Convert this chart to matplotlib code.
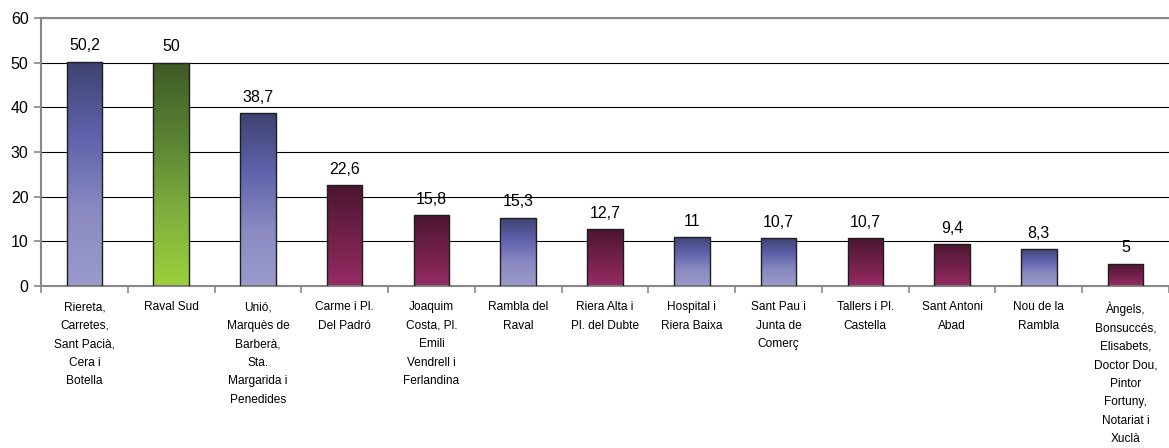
import numpy as np
import matplotlib
matplotlib.use('Agg')
import matplotlib.pyplot as plt
from matplotlib.colors import LinearSegmentedColormap

plt.rcParams['font.family'] = ['Liberation Sans', 'DejaVu Sans']

categories = [
    'Riereta,\nCarretes,\nSant Pacià,\nCera i\nBotella',
    'Raval Sud',
    'Unió,\nMarquès de\nBarberà,\nSta.\nMargarida i\nPenedides',
    'Carme i Pl.\nDel Padró',
    'Joaquim\nCosta, Pl.\nEmili\nVendrell i\nFerlandina',
    'Rambla del\nRaval',
    'Riera Alta i\nPl. del Dubte',
    'Hospital i\nRiera Baixa',
    'Sant Pau i\nJunta de\nComerç',
    'Tallers i Pl.\nCastella',
    'Sant Antoni\nAbad',
    'Nou de la\nRambla',
    'Àngels,\nBonsuccés,\nElisabets,\nDoctor Dou,\nPintor\nFortuny,\nNotariat i\nXuclà',
]
values = [50.2, 50, 38.7, 22.6, 15.8, 15.3, 12.7, 11, 10.7, 10.7, 9.4, 8.3, 5]
groups = ['blue', 'green', 'blue', 'red', 'red', 'blue', 'red', 'blue', 'blue', 'red', 'red', 'blue', 'red']

# gradient (bottom -> top) for each colour group
cmaps = {
    'blue': LinearSegmentedColormap.from_list('b', ['#9a9acb', '#8a8ac2', '#5f62ab', '#3e4270']),
    'green': LinearSegmentedColormap.from_list('g', ['#9dd03a', '#7fae3e', '#5a8134', '#3f5a25']),
    'red': LinearSegmentedColormap.from_list('r', ['#962b65', '#7d2450', '#651d42', '#4b1630']),
}

fig = plt.figure(figsize=(11.69, 4.48), dpi=100)
ax = fig.add_axes([41 / 1169, 1 - 286 / 448, 1128 / 1169, 268 / 448])

x = np.arange(len(values))
width = 0.41
bars = ax.bar(x, values, width, color='none', edgecolor='#1e1e1e', linewidth=1.0, zorder=3)

grad = np.linspace(0, 1, 256).reshape(-1, 1)
for b, g in zip(bars, groups):
    x0, y0 = b.get_x(), b.get_y()
    w, h = b.get_width(), b.get_height()
    im = ax.imshow(grad, cmap=cmaps[g], origin='lower', aspect='auto',
                   extent=[x0, x0 + w, y0, y0 + h], zorder=2)
    im.set_clip_path(b)

for xi, v in zip(x, values):
    ax.annotate(('%g' % v).replace('.', ','), (xi, v), xytext=(0, 6),
                textcoords='offset points', ha='center', va='bottom', fontsize=11.5)

ax.set_xlim(-0.5, len(values) - 0.5)
ax.set_ylim(0, 60)
ax.set_yticks(range(0, 61, 10))
ax.yaxis.grid(True, color='black', linewidth=0.8)
ax.set_axisbelow(True)

ax.set_xticks(x)
ax.set_xticklabels(categories, fontsize=8.6, linespacing=1.72, va='top')
ax.set_xticks(np.arange(-0.5, len(values), 1), minor=True)
ax.tick_params(axis='x', which='major', length=0, pad=11)
ax.tick_params(axis='x', which='minor', length=5, color='#888888', width=1.2)
ax.tick_params(axis='y', length=5, color='#888888', width=1.2, labelsize=11.5, pad=4)

for s in ['right']:
    ax.spines[s].set_visible(False)
for s in ['left', 'bottom', 'top']:
    ax.spines[s].set_color('#888888')
    ax.spines[s].set_linewidth(1.5)

fig.savefig('out.png', dpi=100)
